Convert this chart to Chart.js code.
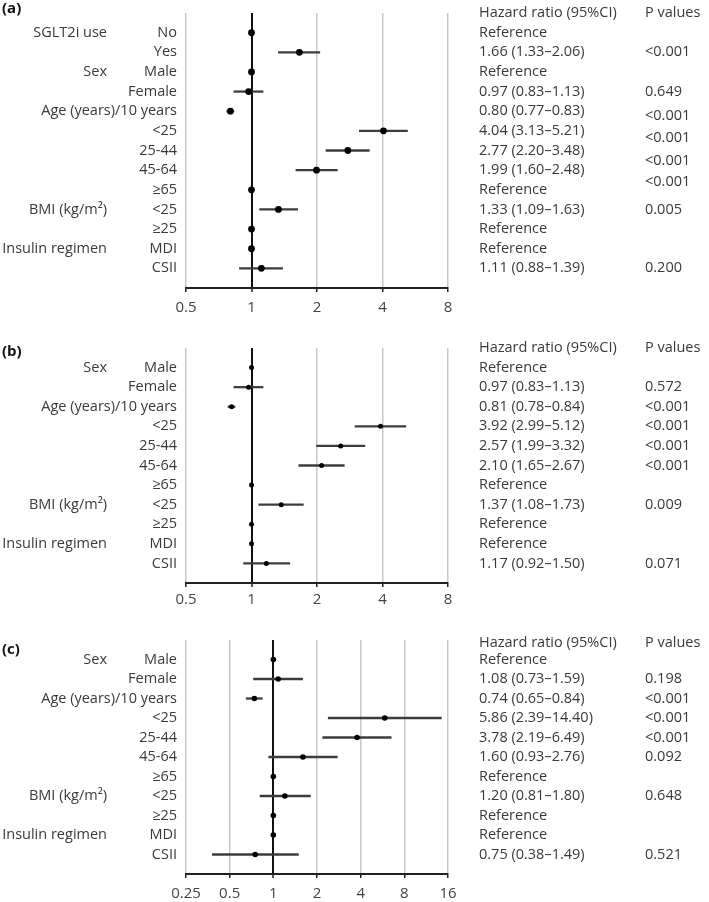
<!DOCTYPE html>
<html>
<head>
<meta charset="utf-8">
<script src="https://cdn.jsdelivr.net/npm/chart.js@4"></script>
<style>
  html, body { margin: 0; padding: 0; background: #fff; }
  #page { position: relative; width: 709px; height: 902px; overflow: hidden; }
  canvas { position: absolute; left: 0; }
</style>
</head>
<body>
<div id="page">
  <canvas id="chartA" width="709" height="330" style="top:0px"></canvas>
  <canvas id="chartB" width="709" height="290" style="top:330px"></canvas>
  <canvas id="chartC" width="709" height="282" style="top:620px"></canvas>
</div>
<script>
// ---- panel (a)
const aRows = ["No", "Yes", "Male", "Female", "Age (years)/10 years", "<25", "25-44", "45-64", "≥65", "<25", "≥25", "MDI", "CSII"];
const aGroups = ["SGLT2i use", "", "Sex", "", "", "", "", "", "", "BMI (kg/m²)", "", "Insulin regimen", ""];
const aHR = [1, 1.66, 1, 0.97, 0.80, 4.04, 2.77, 1.99, 1, 1.33, 1, 1, 1.11];
const aLow = [null, 1.33, null, 0.83, 0.77, 3.13, 2.20, 1.60, null, 1.09, null, null, 0.88];
const aHigh = [null, 2.06, null, 1.13, 0.83, 5.21, 3.48, 2.48, null, 1.63, null, null, 1.39];
const aP = ["", "<0.001", "", "0.649", "<0.001", "<0.001", "<0.001", "<0.001", "", "0.005", "", "", "0.200"];
const aTicks = [0.5, 1, 2, 4, 8];

// ---- panel (b)
const bRows = ["Male", "Female", "Age (years)/10 years", "<25", "25-44", "45-64", "≥65", "<25", "≥25", "MDI", "CSII"];
const bGroups = ["Sex", "", "", "", "", "", "", "BMI (kg/m²)", "", "Insulin regimen", ""];
const bHR = [1, 0.97, 0.81, 3.92, 2.57, 2.10, 1, 1.37, 1, 1, 1.17];
const bLow = [null, 0.83, 0.78, 2.99, 1.99, 1.65, null, 1.08, null, null, 0.92];
const bHigh = [null, 1.13, 0.84, 5.12, 3.32, 2.67, null, 1.73, null, null, 1.50];
const bP = ["", "0.572", "<0.001", "<0.001", "<0.001", "<0.001", "", "0.009", "", "", "0.071"];
const bTicks = [0.5, 1, 2, 4, 8];

// ---- panel (c)
const cRows = ["Male", "Female", "Age (years)/10 years", "<25", "25-44", "45-64", "≥65", "<25", "≥25", "MDI", "CSII"];
const cGroups = ["Sex", "", "", "", "", "", "", "BMI (kg/m²)", "", "Insulin regimen", ""];
const cHR = [1, 1.08, 0.74, 5.86, 3.78, 1.60, 1, 1.20, 1, 1, 0.75];
const cLow = [null, 0.73, 0.65, 2.39, 2.19, 0.93, null, 0.81, null, null, 0.38];
const cHigh = [null, 1.59, 0.84, 14.40, 6.49, 2.76, null, 1.80, null, null, 1.49];
const cP = ["", "0.198", "<0.001", "<0.001", "<0.001", "0.092", "", "0.648", "", "", "0.521"];
const cTicks = [0.25, 0.5, 1, 2, 4, 8, 16];

const FONT = "'Open Sans', 'Noto Sans', sans-serif";
const TEXT = "#3a3a3a";

function hrText(hr, lo, hi) {
  if (lo === null) return "Reference";
  return hr.toFixed(2) + " (" + lo.toFixed(2) + "–" + hi.toFixed(2) + ")";
}

// draws the left labels and the right-hand table
const tablePlugin = {
  id: "tableText",
  afterDraw(chart, args, opts) {
    const ctx = chart.ctx;
    const y = chart.scales.y;
    ctx.save();
    ctx.fillStyle = TEXT;
    ctx.textBaseline = "middle";
    ctx.font = "14.5px " + FONT;

    const headY = y.getPixelForValue(-1) + opts.headShift;
    ctx.textAlign = "left";
    ctx.fillText("Hazard ratio (95%CI)", 479, headY);
    ctx.fillText("P values", 645, headY);

    opts.rows.forEach((label, i) => {
      const py = y.getPixelForValue(i);
      ctx.textAlign = "right";
      ctx.fillText(label, 177, py);
      if (opts.groups[i]) ctx.fillText(opts.groups[i], 107, py);
      ctx.textAlign = "left";
      ctx.fillText(hrText(opts.hr[i], opts.low[i], opts.high[i]), 479, py);
      if (opts.p[i]) ctx.fillText(opts.p[i], 645, py + (opts.pShift[i] || 0));
    });

    ctx.font = "bold 15px " + FONT;
    ctx.fillStyle = "#111";
    ctx.fillText(opts.tag, 2, opts.tagY);
    ctx.restore();
  },
};

function makePanel(canvasId, p) {
  const n = p.rows.length;
  const ciData = [];
  p.rows.forEach((r, i) => {
    if (p.low[i] !== null) ciData.push({ x: [p.low[i], p.high[i]], y: i });
  });
  const pointData = p.hr.map((v, i) => ({ x: v, y: i }));

  const chart = new Chart(document.querySelector(canvasId), {
    type: "scatter",
    data: {
      datasets: [
        {
          type: "scatter",
          data: pointData,
          pointRadius: p.radius,
          pointHoverRadius: p.radius,
          pointBackgroundColor: "#000",
          pointBorderWidth: 0,
          order: 0,
        },
        {
          type: "bar",
          indexAxis: "y",
          data: ciData,
          backgroundColor: "#3c3c3c",
          borderWidth: 0,
          barThickness: 1.6,
          order: 1,
        },
      ],
    },
    options: {
      responsive: false,
      animation: false,
      events: [],
      layout: { padding: { top: p.top, bottom: 10, left: 186, right: 709 - 448 } },
      plugins: {
        legend: { display: false },
        tooltip: { enabled: false },
        tableText: {
          rows: p.rows, groups: p.groups, hr: p.hr, low: p.low, high: p.high, p: p.p,
          pShift: p.pShift || [], headShift: p.headShift || 0, tag: p.tag, tagY: p.tagY,
        },
      },
      scales: {
        x: {
          type: "logarithmic",
          min: p.ticks[0],
          max: p.ticks[p.ticks.length - 1],
          afterBuildTicks: (s) => { s.ticks = p.ticks.map((v) => ({ value: v })); },
          ticks: {
            callback: (v) => String(v),
            font: { family: FONT, size: 15 },
            color: "#444",
            padding: p.tickPad,
            maxRotation: 0,
            autoSkip: false,
          },
          grid: {
            color: (c) => (c.tick && c.tick.value === 1 ? "#111" : "#c8c8c8"),
            lineWidth: (c) => (c.tick && c.tick.value === 1 ? 2 : 1.5),
            tickLength: 4,
            tickColor: "#222",
            tickWidth: 1.5,
          },
          border: { color: "#222", width: 2 },
        },
        y: { type: "linear", min: -1, max: n, reverse: true, offset: false, display: false },
      },
    },
    plugins: [tablePlugin],
  });

  // line the plot area up with the reference: move padding until the axis sits at p.axis
  const pad = chart.options.layout.padding;
  pad.top += p.top - chart.chartArea.top;
  pad.bottom += chart.chartArea.bottom - p.axis;
  chart.update();
}

makePanel("#chartA", {
  rows: aRows, groups: aGroups, hr: aHR, low: aLow, high: aHigh, p: aP, ticks: aTicks,
  radius: 3.4, top: 13, axis: 288, tag: "(a)", tagY: 9, tickPad: 7,
  pShift: [0, 0, 0, 0, 5, 7, 10, 12, 0, 0, 0, 0, 0],
});
makePanel("#chartB", {
  rows: bRows, groups: bGroups, hr: bHR, low: bLow, high: bHigh, p: bP, ticks: bTicks,
  radius: 2.5, top: 18, axis: 253, tag: "(b)", tagY: 22, tickPad: 4,
});
makePanel("#chartC", {
  rows: cRows, groups: cGroups, hr: cHR, low: cLow, high: cHigh, p: cP, ticks: cTicks,
  radius: 2.8, top: 20, axis: 254, tag: "(c)", tagY: 30, headShift: 3, tickPad: 7,
});
</script>
</body>
</html>
